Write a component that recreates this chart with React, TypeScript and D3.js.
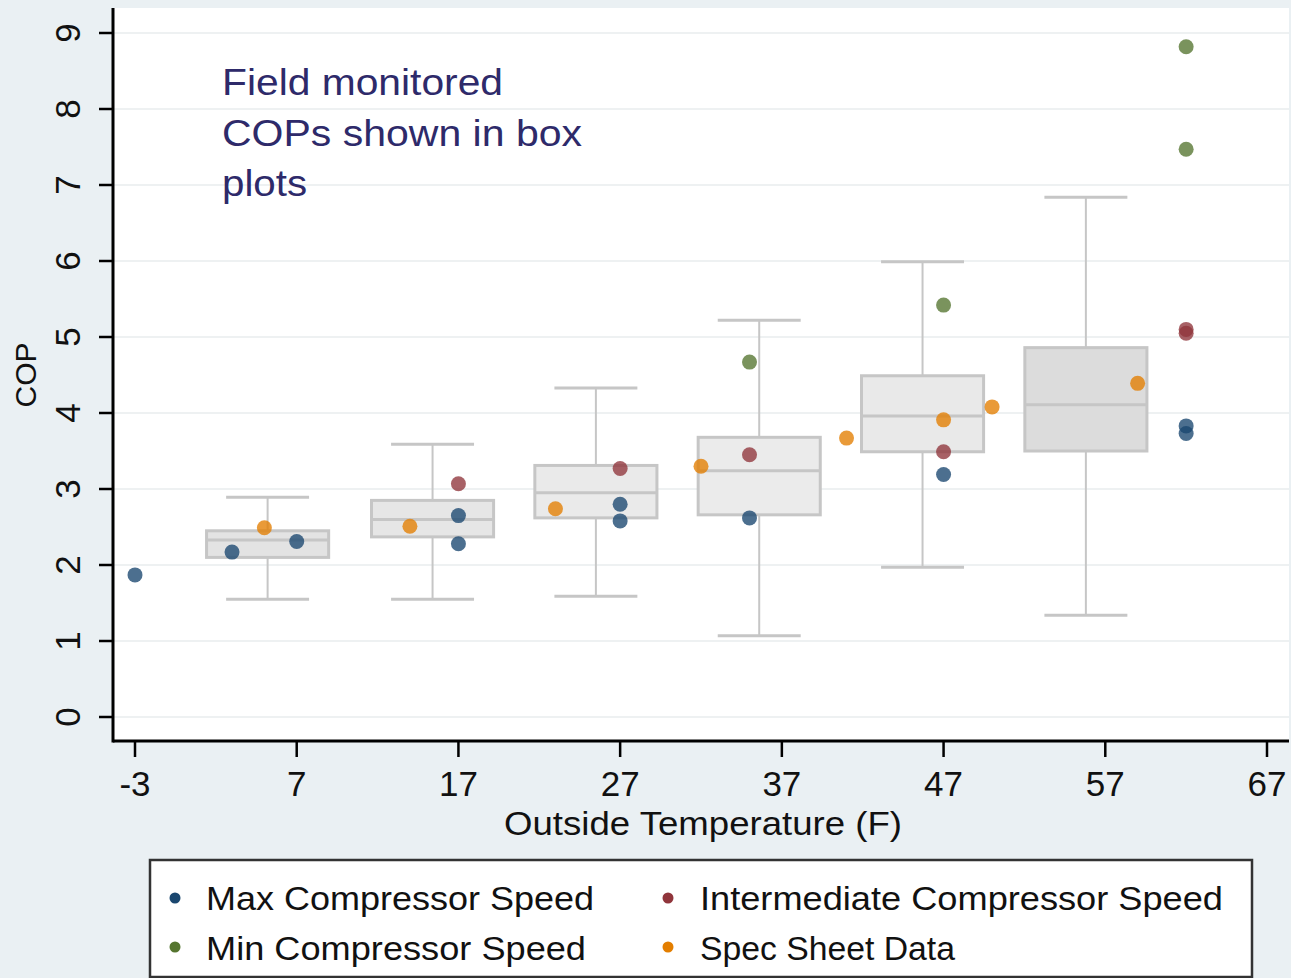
import React, { useEffect, useRef } from 'react';
import * as d3 from 'd3';

// box plot summaries of field monitored COP
const boxTemps = [5.2, 15.4, 25.5, 35.6, 45.7, 55.8];
const boxLow = [1.55, 1.55, 1.59, 1.07, 1.97, 1.34];
const boxQ1 = [2.10, 2.37, 2.62, 2.66, 3.49, 3.50];
const boxMedian = [2.33, 2.60, 2.95, 3.24, 3.96, 4.11];
const boxQ3 = [2.45, 2.85, 3.31, 3.68, 4.49, 4.86];
const boxHigh = [2.89, 3.59, 4.33, 5.22, 5.99, 6.84];

const maxTemps = [-3, 3, 7, 17, 17, 27, 27, 35, 47, 62, 62];
const maxCop = [1.87, 2.17, 2.31, 2.65, 2.28, 2.80, 2.58, 2.62, 3.19, 3.83, 3.73];
const intTemps = [17, 27, 35, 47, 62, 62];
const intCop = [3.07, 3.27, 3.45, 3.49, 5.10, 5.05];
const minTemps = [35, 47, 62, 62];
const minCop = [4.67, 5.42, 8.82, 7.47];
const specTemps = [5, 14, 23, 32, 41, 47, 50, 59];
const specCop = [2.49, 2.51, 2.74, 3.30, 3.67, 3.91, 4.08, 4.39];

const xTicks = [-3, 7, 17, 27, 37, 47, 57, 67];
const yTicks = [0, 1, 2, 3, 4, 5, 6, 7, 8, 9];
const seriesNames = ['Max Compressor Speed', 'Intermediate Compressor Speed', 'Min Compressor Speed', 'Spec Sheet Data'];
const noteLines = ['Field monitored', 'COPs shown in box', 'plots'];

const FONT = '"Liberation Sans", Arial, sans-serif';
const boxFills = ['#e3e3e3', '#e6e6e6', '#eaeaea', '#ebebeb', '#e9e9e9', '#dcdcdc'];

function App() {
  const ref = useRef<SVGSVGElement>(null);

  useEffect(() => {
    const svg = d3.select(ref.current);
    svg.selectAll('*').remove();

    const plot = { left: 113, right: 1289, top: 8, bottom: 741 };
    const x = d3.scaleLinear().domain([-3, 67]).range([135, 1267]);
    const y = d3.scaleLinear().domain([0, 9]).range([717, 33]);

    svg.append('rect').attr('width', 1291).attr('height', 978).attr('fill', '#eaf0f3');
    svg.append('rect')
      .attr('x', plot.left).attr('y', plot.top)
      .attr('width', plot.right - plot.left).attr('height', plot.bottom - plot.top)
      .attr('fill', '#ffffff');

    // grid
    svg.append('g').selectAll('line').data(yTicks).join('line')
      .attr('x1', plot.left).attr('x2', plot.right)
      .attr('y1', d => y(d)).attr('y2', d => y(d))
      .attr('stroke', '#e9ecee').attr('stroke-width', 1.5);

    // annotation
    const noteWidths = [281, 360, 85];
    svg.append('g').selectAll('text').data(noteLines).join('text')
      .attr('x', 222).attr('y', (d, i) => 95 + i * 50.5)
      .attr('font-family', FONT).attr('font-size', 36)
      .attr('fill', '#2e2a6a')
      .attr('textLength', (d, i) => noteWidths[i])
      .attr('lengthAdjust', 'spacingAndGlyphs')
      .text(d => d);

    // boxes
    const boxHalf = (x(7.55) - x(0)) / 2;
    const capHalf = (x(5.13) - x(0)) / 2;
    const boxColor = '#c6c6c6';
    const boxes = svg.append('g').selectAll('g').data(boxTemps).join('g');
    boxes.append('line')
      .attr('x1', d => x(d)).attr('x2', d => x(d))
      .attr('y1', (d, i) => y(boxHigh[i])).attr('y2', (d, i) => y(boxLow[i]))
      .attr('stroke', boxColor).attr('stroke-width', 2);
    boxes.append('line')
      .attr('x1', d => x(d) - capHalf).attr('x2', d => x(d) + capHalf)
      .attr('y1', (d, i) => y(boxHigh[i])).attr('y2', (d, i) => y(boxHigh[i]))
      .attr('stroke', boxColor).attr('stroke-width', 3);
    boxes.append('line')
      .attr('x1', d => x(d) - capHalf).attr('x2', d => x(d) + capHalf)
      .attr('y1', (d, i) => y(boxLow[i])).attr('y2', (d, i) => y(boxLow[i]))
      .attr('stroke', boxColor).attr('stroke-width', 3);
    boxes.append('rect')
      .attr('x', d => x(d) - boxHalf).attr('width', boxHalf * 2)
      .attr('y', (d, i) => y(boxQ3[i]))
      .attr('height', (d, i) => y(boxQ1[i]) - y(boxQ3[i]))
      .attr('fill', (d, i) => boxFills[i])
      .attr('stroke', boxColor).attr('stroke-width', 3);
    boxes.append('line')
      .attr('x1', d => x(d) - boxHalf).attr('x2', d => x(d) + boxHalf)
      .attr('y1', (d, i) => y(boxMedian[i])).attr('y2', (d, i) => y(boxMedian[i]))
      .attr('stroke', boxColor).attr('stroke-width', 3);

    // points
    const series = [
      { t: maxTemps, v: maxCop, color: '#1a476f' },
      { t: intTemps, v: intCop, color: '#90353b' },
      { t: minTemps, v: minCop, color: '#55752f' },
      { t: specTemps, v: specCop, color: '#e37e00' },
    ];
    series.forEach(s => {
      svg.append('g').selectAll('circle').data(s.t).join('circle')
        .attr('cx', d => x(d))
        .attr('cy', (d, i) => y(s.v[i]))
        .attr('r', 7.5)
        .attr('fill', s.color)
        .attr('fill-opacity', 0.78);
    });

    // axes
    svg.append('line')
      .attr('x1', plot.left).attr('x2', plot.left)
      .attr('y1', plot.top).attr('y2', plot.bottom + 1.5)
      .attr('stroke', '#000').attr('stroke-width', 3);
    svg.append('line')
      .attr('x1', plot.left).attr('x2', plot.right)
      .attr('y1', plot.bottom).attr('y2', plot.bottom)
      .attr('stroke', '#000').attr('stroke-width', 3);

    svg.append('g').selectAll('line').data(yTicks).join('line')
      .attr('x1', 99).attr('x2', plot.left)
      .attr('y1', d => y(d)).attr('y2', d => y(d))
      .attr('stroke', '#000').attr('stroke-width', 2.5);
    svg.append('g').selectAll('text').data(yTicks).join('text')
      .attr('transform', d => `translate(80,${y(d)}) rotate(-90)`)
      .attr('text-anchor', 'middle')
      .attr('font-family', FONT).attr('font-size', 35)
      .attr('fill', '#111')
      .text(d => d);

    svg.append('g').selectAll('line').data(xTicks).join('line')
      .attr('x1', d => x(d)).attr('x2', d => x(d))
      .attr('y1', plot.bottom).attr('y2', plot.bottom + 16)
      .attr('stroke', '#000').attr('stroke-width', 2.5);
    svg.append('g').selectAll('text').data(xTicks).join('text')
      .attr('x', d => x(d)).attr('y', 796)
      .attr('text-anchor', 'middle')
      .attr('font-family', FONT).attr('font-size', 35)
      .attr('fill', '#111')
      .text(d => d);

    svg.append('text')
      .attr('x', 504).attr('y', 835)
      .attr('font-family', FONT).attr('font-size', 34)
      .attr('fill', '#111')
      .attr('textLength', 398).attr('lengthAdjust', 'spacingAndGlyphs')
      .text('Outside Temperature (F)');

    svg.append('text')
      .attr('transform', 'translate(36,375) rotate(-90)')
      .attr('text-anchor', 'middle')
      .attr('font-family', FONT).attr('font-size', 30)
      .attr('fill', '#111')
      .text('COP');

    // legend
    const legend = svg.append('g');
    legend.append('rect')
      .attr('x', 150).attr('y', 860).attr('width', 1102).attr('height', 117)
      .attr('fill', '#ffffff').attr('stroke', '#333').attr('stroke-width', 2.5);
    const legendPos = [
      { dx: 175, tx: 206, dy: 898, ty: 910, w: 388 },
      { dx: 668, tx: 700, dy: 898, ty: 910, w: 523 },
      { dx: 175, tx: 206, dy: 947, ty: 960, w: 380 },
      { dx: 668, tx: 700, dy: 947, ty: 960, w: 255 },
    ];
    seriesNames.forEach((name, i) => {
      const p = legendPos[i];
      legend.append('circle')
        .attr('cx', p.dx).attr('cy', p.dy).attr('r', 5.5)
        .attr('fill', series[i].color);
      legend.append('text')
        .attr('x', p.tx).attr('y', p.ty)
        .attr('font-family', FONT).attr('font-size', 33)
        .attr('fill', '#111')
        .attr('textLength', p.w).attr('lengthAdjust', 'spacingAndGlyphs')
        .text(name);
    });
  }, []);

  return (
    <div>
      <style>{'body{margin:0}'}</style>
      <svg ref={ref} width={1291} height={978} style={{ display: 'block' }} />
    </div>
  );
}

export default App;
